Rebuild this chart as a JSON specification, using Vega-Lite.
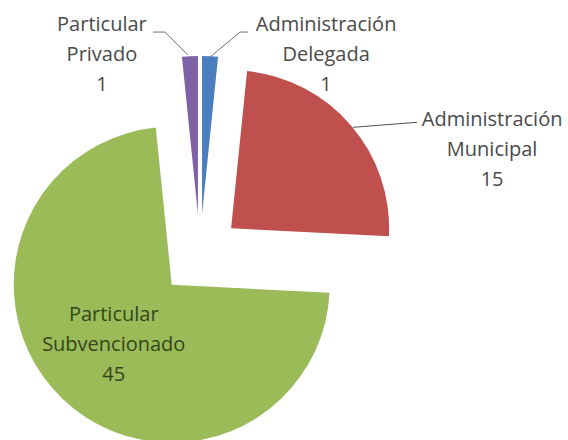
{
  "$schema": "https://vega.github.io/schema/vega-lite/v6.json",
  "width": 568,
  "height": 440,
  "padding": 0,
  "autosize": {"type": "none"},
  "background": "white",
  "config": {"view": {"stroke": null}, "text": {"font": "Open Sans", "fontSize": 20, "lineHeight": 30}},
  "data": {
    "values": [
      {"category": "Administración Delegada", "value": 1, "order": 1},
      {"category": "Administración Municipal", "value": 15, "order": 2},
      {"category": "Particular Subvencionado", "value": 45, "order": 3},
      {"category": "Particular Privado", "value": 1, "order": 4}
    ]
  },
  "transform": [
    {"window": [{"op": "sum", "field": "value", "as": "cum"}], "sort": [{"field": "order"}], "frame": [null, 0]},
    {"joinaggregate": [{"op": "sum", "field": "value", "as": "total"}]},
    {"calculate": "(datum.cum - datum.value / 2) / datum.total * 2 * PI", "as": "mid"},
    {"calculate": "sin(datum.mid)", "as": "ex"},
    {"calculate": "cos(datum.mid)", "as": "ey"},
    {"calculate": "replace(datum.category, ' ', '|') + '|' + datum.value", "as": "lbl"}
  ],
  "encoding": {
    "x": {"field": "ex", "type": "quantitative", "stack": null, "scale": {"domain": [-1, 1], "range": [159, 241]}, "axis": null},
    "y": {"field": "ey", "type": "quantitative", "stack": null, "scale": {"domain": [-1, 1], "range": [296, 214]}, "axis": null}
  },
  "layer": [
    {
      "mark": {"type": "arc", "outerRadius": 158},
      "encoding": {
        "theta": {"field": "value", "type": "quantitative", "stack": true},
        "order": {"field": "order", "type": "quantitative"},
        "color": {
          "field": "category", "type": "nominal", "legend": null,
          "scale": {
            "domain": ["Administración Delegada", "Administración Municipal", "Particular Subvencionado", "Particular Privado"],
            "range": ["#4a7ebf", "#c0504d", "#9bbb59", "#7f62a6"]
          }
        }
      }
    },
    {
      "transform": [{"filter": "datum.category == 'Particular Privado'"}],
      "mark": {"type": "rule", "color": "#707070", "strokeWidth": 1, "xOffset": -10, "yOffset": -159, "x2Offset": -33, "y2Offset": -182},
      "encoding": {"x2": {"field": "ex"}, "y2": {"field": "ey"}}
    },
    {
      "transform": [{"filter": "datum.category == 'Particular Privado'"}],
      "mark": {"type": "rule", "color": "#707070", "strokeWidth": 1, "xOffset": -33, "yOffset": -182, "x2Offset": -45, "y2Offset": -182},
      "encoding": {"x2": {"field": "ex"}, "y2": {"field": "ey"}}
    },
    {
      "transform": [{"filter": "datum.category == 'Administración Delegada'"}],
      "mark": {"type": "rule", "color": "#707070", "strokeWidth": 1, "xOffset": 8, "yOffset": -157, "x2Offset": 38, "y2Offset": -182},
      "encoding": {"x2": {"field": "ex"}, "y2": {"field": "ey"}}
    },
    {
      "transform": [{"filter": "datum.category == 'Administración Delegada'"}],
      "mark": {"type": "rule", "color": "#707070", "strokeWidth": 1, "xOffset": 38, "yOffset": -182, "x2Offset": 46, "y2Offset": -182},
      "encoding": {"x2": {"field": "ex"}, "y2": {"field": "ey"}}
    },
    {
      "transform": [{"filter": "datum.category == 'Administración Municipal'"}],
      "mark": {"type": "rule", "color": "#505050", "strokeWidth": 1, "xOffset": 122, "yOffset": -101, "x2Offset": 186, "y2Offset": -106},
      "encoding": {"x2": {"field": "ex"}, "y2": {"field": "ey"}}
    },
    {
      "transform": [{"filter": "datum.category == 'Particular Privado'"}],
      "mark": {"type": "text", "lineBreak": "|", "align": "center", "baseline": "middle", "color": "#4a4a4a", "dx": -96, "dy": -189},
      "encoding": {"text": {"field": "lbl"}}
    },
    {
      "transform": [{"filter": "datum.category == 'Administración Delegada'"}],
      "mark": {"type": "text", "lineBreak": "|", "align": "center", "baseline": "middle", "color": "#4a4a4a", "dx": 124, "dy": -189},
      "encoding": {"text": {"field": "lbl"}}
    },
    {
      "transform": [{"filter": "datum.category == 'Administración Municipal'"}],
      "mark": {"type": "text", "lineBreak": "|", "align": "center", "baseline": "middle", "color": "#4a4a4a", "dx": 261, "dy": -108},
      "encoding": {"text": {"field": "lbl"}}
    },
    {
      "transform": [{"filter": "datum.category == 'Particular Subvencionado'"}],
      "mark": {"type": "text", "lineBreak": "|", "align": "center", "baseline": "middle", "color": "#35451b", "dx": -58, "dy": 30},
      "encoding": {"text": {"field": "lbl"}}
    }
  ]
}
